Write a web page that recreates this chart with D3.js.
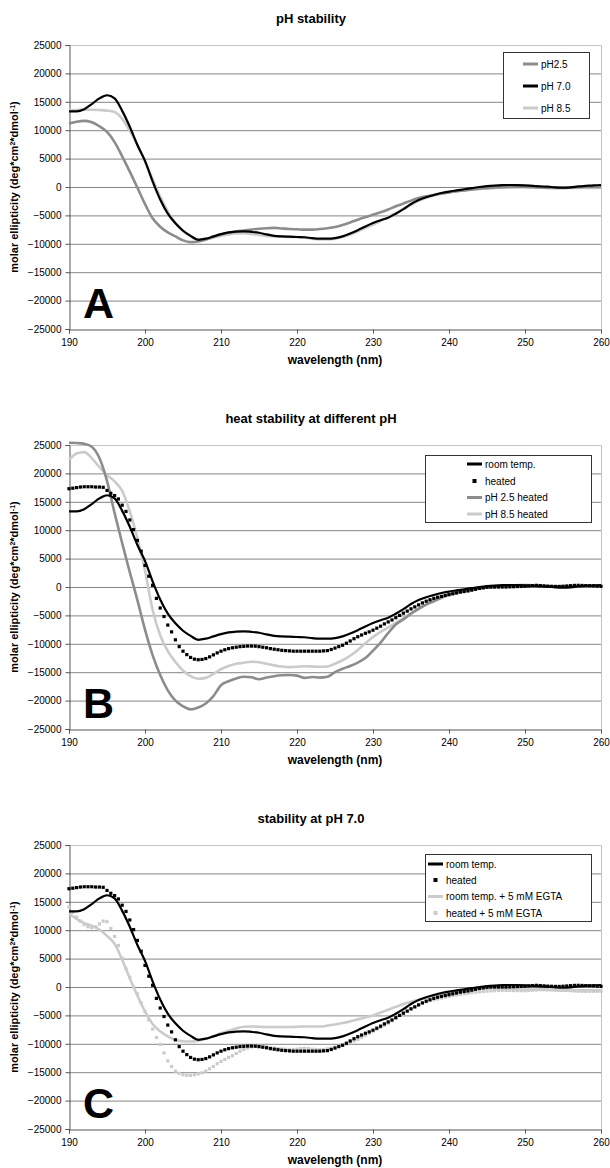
<!DOCTYPE html>
<html>
<head>
<meta charset="utf-8">
<script src="https://cdn.jsdelivr.net/npm/d3@7/dist/d3.min.js"></script>
<style>
  body { margin: 0; background: #fff; }
  text { font-family: "Liberation Sans", Arial, sans-serif; }
</style>
</head>
<body>
<div id="chart"></div>
<script>
// wavelength grids (nm)
var wl1 = d3.range(190, 261, 1);
var wl05 = d3.range(190, 260.25, 0.5);

var xTicks = [190, 200, 210, 220, 230, 240, 250, 260];
var yTicks = [-25000, -20000, -15000, -10000, -5000, 0, 5000, 10000, 15000, 20000, 25000];

// room temp., pH 7.0 (1 nm steps)
var pH70 = [13300, 13300, 13700, 14600, 15600, 16150, 15600, 13400, 10600, 7400,
  4600, 1000, -2200, -4700, -6400, -7700, -8600, -9300, -9100, -8700,
  -8300, -8000, -7850, -7800, -7900, -8050, -8350, -8600, -8700, -8750,
  -8800, -8850, -9000, -9100, -9100, -9000, -8700, -8200, -7600, -6950,
  -6350, -5850, -5400, -4700, -3900, -3000, -2300, -1800, -1400, -1050,
  -800, -600, -400, -200, 0, 150, 250, 320, 350, 330,
  280, 200, 120, 50, -50, -100, -50, 100, 200, 300, 350];

var pH25 = [11200, 11500, 11650, 11400, 10700, 9700, 7900, 5400, 2700, -100,
  -3000, -5500, -7000, -8000, -8700, -9400, -9700, -9600, -9250, -8800,
  -8350, -8050, -7800, -7650, -7500, -7350, -7250, -7200, -7300, -7400,
  -7450, -7500, -7500, -7400, -7250, -7050, -6700, -6250, -5750, -5300,
  -4900, -4450, -3950, -3400, -2900, -2400, -1950, -1650, -1400, -1150,
  -950, -750, -600, -450, -300, -200, -100, -50, 0, 0,
  0, -50, -100, -150, -180, -180, -120, -50, 0, 0, 0];

var pH85 = [13500, 13550, 13600, 13600, 13550, 13450, 13200, 12000, 9900, 7400,
  4500, 1400, -1700, -4300, -6300, -7700, -8700, -9300, -9200, -8900,
  -8600, -8350, -8200, -8150, -8250, -8450, -8600, -8700, -8750, -8800,
  -8800, -8900, -9100, -9250, -9250, -9100, -8800, -8350, -7800, -7200,
  -6600, -5950, -5250, -4600, -3900, -3150, -2450, -1900, -1500, -1200,
  -950, -750, -600, -450, -350, -250, -150, -80, -30, 0,
  0, -30, -80, -120, -160, -180, -170, -150, -150, -170, -180];

var pH25Heated = [25400, 25350, 25200, 24700, 22700, 18700, 13000, 7700, 2600, -2300,
  -7500, -12000, -15500, -18200, -20000, -21000, -21550, -21200, -20500, -19200,
  -17300, -16600, -16100, -15800, -15900, -16250, -15950, -15700, -15550, -15500,
  -15600, -16000, -15850, -15950, -15800, -15000, -14400, -13900, -13300, -12500,
  -11200, -9800, -8100, -6600, -5700, -4700, -3850, -3100, -2500, -1900,
  -1300, -1000, -700, -450, -250, -100, 0, 100, 200, 300,
  280, 220, 150, 120, 120, 120, 120, 120, 120, 120, 120];

var pH85Heated = [22400, 23500, 23750, 22700, 21100, 19700, 18600, 16900, 13300, 8600,
  2900, -4000, -8500, -11300, -13200, -14700, -15700, -16150, -16000, -15300,
  -14450, -13900, -13500, -13350, -13150, -13250, -13500, -13800, -14000, -14100,
  -14050, -13950, -14000, -14050, -14000, -13500, -12900, -12100, -11100, -9900,
  -8800, -7900, -7100, -6300, -5500, -4600, -3800, -3000, -2400, -1900,
  -1400, -1000, -650, -400, -200, -50, 50, 150, 250, 350,
  400, 300, 200, 150, 120, 120, 120, 120, 120, 120, 120];

var roomEGTA = [12900, 12000, 11250, 10800, 10100, 9000, 7600, 4800, 1500, -1500,
  -4300, -6500, -7800, -8700, -9300, -9550, -9600, -9450, -9100, -8650,
  -8150, -7700, -7300, -7000, -6950, -7000, -7050, -7050, -7050, -7050,
  -7000, -6950, -6950, -6950, -6800, -6600, -6350, -6050, -5700, -5350,
  -5000, -4500, -4000, -3500, -3000, -2600, -2250, -1950, -1600, -1300,
  -1050, -850, -650, -500, -380, -300, -300, -330, -360, -420,
  -470, -470, -470, -500, -560, -620, -620, -600, -590, -590, -590];

// heated samples, 0.5 nm steps
var heated = [17300, 17400, 17500, 17600, 17650, 17650, 17650, 17600, 17600, 17550,
  17000, 16500, 16100, 15500, 14400, 13300, 11800, 10100, 8200, 6300,
  3800, 1900, 300, -2000, -3700, -5200, -6700, -7900, -9300, -10500,
  -11300, -11900, -12400, -12700, -12800, -12750, -12600, -12300, -11950, -11600,
  -11300, -11050, -10850, -10700, -10600, -10500, -10450, -10400, -10400, -10420,
  -10500, -10600, -10700, -10850, -10950, -11050, -11150, -11200, -11250, -11300,
  -11300, -11300, -11300, -11300, -11300, -11300, -11300, -11250, -11200, -11000,
  -10750, -10500, -10250, -9900, -9500, -9100, -8750, -8450, -8150, -7900,
  -7600, -7250, -6900, -6500, -6150, -5800, -5400, -5000, -4600, -4250,
  -3850, -3500, -3150, -2800, -2500, -2250, -2000, -1800, -1650, -1500,
  -1350, -1200, -1050, -900, -800, -700, -550, -400, -250, -150,
  -50, 0, 0, 0, 0, 0, 30, 50, 80, 100,
  120, 180, 250, 290, 250, 200, 150, 120, 100, 100,
  130, 180, 230, 280, 290, 270, 250, 220, 200, 150, 120];

var heatedEGTA = [14100, 13100, 12300, 11600, 11000, 10600, 10450, 10600, 11100, 11600,
  11500, 10300, 8900, 7300, 5100, 3200, 1700, 0, -1200, -2800,
  -4300, -5800, -7400, -8900, -10100, -11600, -13000, -14000, -14800, -15200,
  -15450, -15550, -15550, -15450, -15300, -15100, -14800, -14400, -14000, -13500,
  -13100, -12750, -12400, -12100, -11700, -11300, -11000, -10750, -10550, -10450,
  -10450, -10500, -10550, -10650, -10750, -10850, -10900, -10950, -11000, -11000,
  -10950, -10850, -10800, -10850, -10950, -11000, -11050, -11000, -10900, -10750,
  -10600, -10450, -10300, -10050, -9800, -9500, -9250, -8900, -8550, -8150,
  -7800, -7450, -7100, -6750, -6400, -5950, -5500, -5000, -4600, -4200,
  -3800, -3450, -3150, -2850, -2600, -2400, -2250, -2100, -1950, -1800,
  -1650, -1500, -1400, -1300, -1200, -1100, -1000, -900, -850, -780,
  -720, -680, -650, -620, -600, -600, -600, -620, -640, -650,
  -650, -620, -580, -520, -480, -470, -480, -500, -540, -580,
  -600, -620, -650, -700, -740, -760, -760, -760, -760, -760, -760];

var BLACK = '#000', GREY = '#8c8c8c', LIGHT = '#cbcbcb';

function zip(xs, ys) {
  return xs.map(function(x, i) { return { x: x, y: ys[i] }; });
}

// legend rows are y offsets from the panel top
var panels = [
  { top: 45, title: 'pH stability', letter: 'A',
    legend: { x: 503, w: 86, y: 7, h: 66, rows: [19, 41, 63], sx: 523, tx: 541 },
    series: [
      { name: 'pH2.5', type: 'line', color: GREY, data: zip(wl1, pH25) },
      { name: 'pH 7.0', type: 'line', color: BLACK, data: zip(wl1, pH70) },
      { name: 'pH 8.5', type: 'line', color: LIGHT, data: zip(wl1, pH85) }
    ] },
  { top: 445, title: 'heat stability at different pH', letter: 'B',
    legend: { x: 425, w: 166, y: 10, h: 67, rows: [19, 36, 52.5, 69], sx: 467, tx: 485 },
    series: [
      { name: 'room temp.', type: 'line', color: BLACK, data: zip(wl1, pH70) },
      { name: 'heated', type: 'dots', color: BLACK, data: zip(wl05, heated) },
      { name: 'pH 2.5 heated', type: 'line', color: GREY, data: zip(wl1, pH25Heated) },
      { name: 'pH 8.5 heated', type: 'line', color: LIGHT, data: zip(wl1, pH85Heated) }
    ] },
  { top: 845, title: 'stability at pH 7.0', letter: 'C',
    legend: { x: 425, w: 166, y: 9, h: 67, rows: [19, 35, 51.5, 68], sx: 428, tx: 446 },
    series: [
      { name: 'room temp.', type: 'line', color: BLACK, data: zip(wl1, pH70) },
      { name: 'heated', type: 'dots', color: BLACK, data: zip(wl05, heated) },
      { name: 'room temp. + 5 mM EGTA', type: 'line', color: LIGHT, data: zip(wl1, roomEGTA) },
      { name: 'heated + 5 mM EGTA', type: 'dots', color: LIGHT, data: zip(wl05, heatedEGTA) }
    ] }
];

var W = 610, H = 1168;
var x0 = 69, x1 = 601, ph = 284;

var svg = d3.select('#chart').append('svg')
  .attr('width', W).attr('height', H)
  .style('background', '#fff');

var x = d3.scaleLinear().domain([190, 260]).range([x0, x1]);

panels.forEach(function(p) {
  var g = svg.append('g').attr('transform', 'translate(0,' + p.top + ')');
  var y = d3.scaleLinear().domain([-25000, 25000]).range([ph, 0]);

  // gridlines
  g.append('g').selectAll('line')
    .data(yTicks.filter(function(d) { return d > -25000 && d < 25000; }))
    .join('line')
    .attr('x1', x0).attr('x2', x1)
    .attr('y1', function(d) { return y(d) + 0.5; })
    .attr('y2', function(d) { return y(d) + 0.5; })
    .attr('stroke', '#858585').attr('stroke-width', 1);

  // plot frame top/right
  g.append('path')
    .attr('d', 'M' + x0 + ',' + (y(25000) + 0.5) + 'H' + (x1 + 0.5) + 'V' + y(-25000))
    .attr('fill', 'none').attr('stroke', '#c4c4c4');

  var yAxis = g.append('g').attr('transform', 'translate(' + (x0 + 0.5) + ',0)')
    .call(d3.axisLeft(y).tickValues(yTicks).tickSize(4).tickPadding(4).tickFormat(d3.format('d')));
  var xAxis = g.append('g').attr('transform', 'translate(0,' + (ph + 0.5) + ')')
    .call(d3.axisBottom(x).tickValues(xTicks).tickSize(4).tickPadding(5));
  [yAxis, xAxis].forEach(function(a) {
    a.select('.domain').attr('stroke', '#555');
    a.selectAll('.tick line').attr('stroke', '#555');
    a.selectAll('text').style('font-size', '10px').attr('fill', '#000');
  });

  // series
  var line = d3.line()
    .x(function(d) { return x(d.x); })
    .y(function(d) { return y(d.y); })
    .curve(d3.curveMonotoneX);

  // draw light ones first, black on top
  var order = p.series.slice().sort(function(a, b) {
    var rank = function(s) { return s.color === BLACK ? 2 : (s.color === GREY ? 1 : 0); };
    return rank(a) - rank(b);
  });
  order.forEach(function(s) {
    if (s.type === 'line') {
      g.append('path').datum(s.data)
        .attr('d', line)
        .attr('fill', 'none')
        .attr('stroke', s.color)
        .attr('stroke-width', s.color === BLACK ? 2.2 : 2.6)
        .attr('stroke-linejoin', 'round');
    } else {
      g.append('g').selectAll('rect')
        .data(s.data)
        .join('rect')
        .attr('x', function(d) { return x(d.x) - 1.6; })
        .attr('y', function(d) { return y(d.y) - 1.6; })
        .attr('width', 3.2).attr('height', 3.2)
        .attr('fill', s.color);
    }
  });

  // titles
  g.append('text')
    .attr('x', 311).attr('y', -22)
    .attr('text-anchor', 'middle')
    .style('font-size', '13px').style('font-weight', 'bold')
    .text(p.title);

  g.append('text')
    .attr('x', (x0 + x1) / 2).attr('y', ph + 35)
    .attr('text-anchor', 'middle')
    .style('font-size', '12px').style('font-weight', 'bold')
    .text('wavelength (nm)');

  var yt = g.append('text')
    .attr('transform', 'translate(18,' + (ph / 2) + ') rotate(-90)')
    .attr('text-anchor', 'middle')
    .style('font-size', '11px').style('font-weight', 'bold');
  yt.append('tspan').text('molar ellipticity (deg*cm');
  yt.append('tspan').attr('baseline-shift', 'super').style('font-size', '7px').text('2');
  yt.append('tspan').text('*dmol');
  yt.append('tspan').attr('baseline-shift', 'super').style('font-size', '7px').text('-1');
  yt.append('tspan').text(')');

  g.append('text')
    .attr('x', 83).attr('y', 273)
    .style('font-size', '43px').style('font-weight', 'bold')
    .text(p.letter);

  // legend
  var L = p.legend;
  var lg = g.append('g');
  lg.append('rect')
    .attr('x', L.x + 0.5).attr('y', L.y + 0.5)
    .attr('width', L.w).attr('height', L.h)
    .attr('fill', '#fff').attr('stroke', '#333');
  p.series.forEach(function(s, i) {
    var ry = L.rows[i];
    if (s.type === 'line') {
      lg.append('line')
        .attr('x1', L.sx).attr('x2', L.sx + 15)
        .attr('y1', ry).attr('y2', ry)
        .attr('stroke', s.color).attr('stroke-width', 3);
    } else {
      lg.append('rect')
        .attr('x', L.sx + 7.5 - 2).attr('y', ry - 2)
        .attr('width', 4).attr('height', 4)
        .attr('fill', s.color);
    }
    lg.append('text')
      .attr('x', L.tx).attr('y', ry + 3.5)
      .style('font-size', '10px')
      .text(s.name);
  });
});
</script>
</body>
</html>
